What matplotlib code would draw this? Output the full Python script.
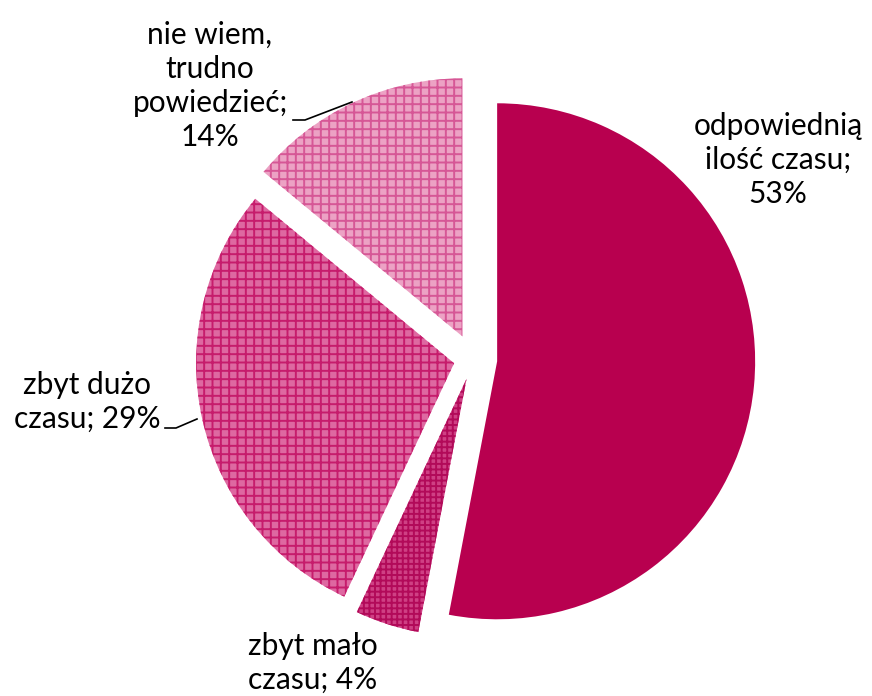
import matplotlib
matplotlib.use("Agg")
import matplotlib.pyplot as plt

plt.rcParams['font.family'] = ['Lato', 'DejaVu Sans']
plt.rcParams['hatch.linewidth'] = 1.4

labels = ["odpowiednią\nilość czasu;\n53%", "zbyt mało\nczasu; 4%", "zbyt dużo\nczasu; 29%", "nie wiem,\ntrudno\npowiedzieć;\n14%"]
values = [53, 4, 29, 14]
face_colors = ["#B8004F", "#CF4084", "#DE68A1", "#ECA2C4"]
hatch_colors = ["#B8004F", "#B20A59", "#C61C6C", "#D65796"]
hatches = [None, "+++", "++", "++"]
explode = [0.094, 0.08, 0.075, 0.097]

W, H = 872, 696
fig = plt.figure(figsize=(W / 100, H / 100), dpi=100)
ax = fig.add_axes([0, 0, 1, 1])

cx, cy, r = 473, H - 359, 258
wedges, _ = ax.pie(values, startangle=90, counterclock=False,
                   explode=[e * r for e in explode],
                   center=(cx, cy), radius=r, colors=face_colors,
                   wedgeprops=dict(linewidth=0), frame=True)
ax.set_xlim(0, W)
ax.set_ylim(0, H)
ax.set_aspect('equal')
ax.axis('off')
for w, hc, h in zip(wedges, hatch_colors, hatches):
    if h:
        w.set_hatch(h)
        w.set_edgecolor(hc)
        w.set_linewidth(0)

# label positions in pixel coordinates (x, y from top)
label_pos = [(778, 160), (313, 663), (87, 402), (210, 86)]
for lab, (x, y) in zip(labels, label_pos):
    ax.text(x, H - y, lab, ha='center', va='center', fontsize=21.5,
            linespacing=1.27, color='black')

# leader lines
ax.plot([293, 305, 352], [H - 120, H - 120, H - 102], color='black', lw=1.2)
ax.plot([165, 176, 197], [H - 428, H - 428, H - 419], color='black', lw=1.2)

fig.savefig("out.png", dpi=100)
